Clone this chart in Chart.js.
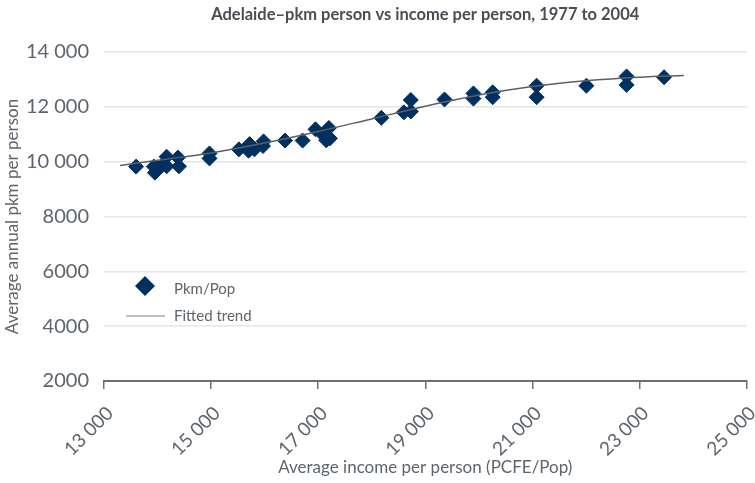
<!DOCTYPE html>
<html>
<head>
<meta charset="utf-8">
<title>Adelaide pkm vs income</title>
<script src="https://cdn.jsdelivr.net/npm/chart.js@4"></script>
<style>
  html, body { margin: 0; padding: 0; background: #fff; }
  #wrap { position: relative; width: 755px; height: 483px; }
</style>
</head>
<body>
<div id="wrap"><canvas id="pkmChart"></canvas></div>
<script>
/* ============================================================
   DATA
   ============================================================ */
const pointIncome = [
    13600, 13930, 13950, 13990, 14080, 14170, 14170, 14380, 14400,
    14970, 14970, 15520, 15700, 15720, 15810, 15970, 15980,
    16380, 16710, 16950, 17100, 17150, 17200, 17220,
    18180, 18600, 18730, 18730, 19360, 19900, 19900, 20260, 20260,
    21080, 21080, 22010, 22760, 22760, 23460
];
const pointPkm = [
    9820, 9820, 9600, 9780, 9850, 10180, 9830, 10150, 9830,
    10300, 10120, 10450, 10400, 10640, 10450, 10570, 10740,
    10770, 10770, 11180, 10960, 10780, 11230, 10850,
    11600, 11800, 11830, 12250, 12270, 12490, 12300, 12530, 12350,
    12770, 12350, 12770, 13110, 12800, 13080
];

const trendIncome = [13300, 14000, 15000, 16000, 17000, 18000, 19000, 20000, 21000, 22000, 23000, 23830];
const trendPkm = [9860, 10050, 10320, 10680, 11100, 11560, 12020, 12430, 12740, 12950, 13080, 13140];

const seriesLabels = ["Pkm/Pop", "Fitted trend"];
const xTicks = [13000, 15000, 17000, 19000, 21000, 23000, 25000];
const yTicks = [2000, 4000, 6000, 8000, 10000, 12000, 14000];

const FONT = "Lato, 'Liberation Sans', Arial, sans-serif";
const NAVY = "#00305f";
const TEXT_GREY = "#5d646b";

// "14 000" style for 5 digit numbers, plain "8000" below that
function fmtThousands(v) {
    const s = String(v);
    return v >= 10000 ? s.slice(0, -3) + " " + s.slice(-3) : s;
}

/* ============================================================
   LEGEND drawn inside the plot area (lower left)
   ============================================================ */
const insideLegend = {
    id: "insideLegend",
    afterDraw(chart) {
        const ctx = chart.ctx;
        const area = chart.chartArea;
        const x0 = area.left;
        const y0 = area.top;

        ctx.save();
        ctx.font = "15px " + FONT;
        ctx.textBaseline = "middle";

        // diamond
        const cx = x0 + 41, cy = y0 + 234;
        ctx.beginPath();
        ctx.moveTo(cx - 10, cy);
        ctx.lineTo(cx, cy - 10);
        ctx.lineTo(cx + 10, cy);
        ctx.lineTo(cx, cy + 10);
        ctx.closePath();
        ctx.fillStyle = NAVY;
        ctx.fill();

        ctx.fillStyle = TEXT_GREY;
        ctx.fillText(seriesLabels[0], x0 + 70, cy + 3);

        // trend line sample
        const ly = y0 + 264;
        ctx.beginPath();
        ctx.moveTo(x0 + 22, ly);
        ctx.lineTo(x0 + 61, ly);
        ctx.strokeStyle = "#7a8088";
        ctx.lineWidth = 1.2;
        ctx.stroke();
        ctx.fillText(seriesLabels[1], x0 + 70, ly);
        ctx.restore();
    }
};

/* ============================================================
   CHART
   ============================================================ */
const ctx = document.getElementById("pkmChart");

new Chart(ctx, {
    type: "scatter",
    data: {
        datasets: [
            {
                label: seriesLabels[0],
                data: pointIncome.map((x, i) => ({ x: x, y: pointPkm[i] })),
                pointStyle: "rectRot",
                pointRadius: 7.5,
                pointBackgroundColor: NAVY,
                pointBorderColor: NAVY,
                pointBorderWidth: 1,
                order: 2
            },
            {
                label: seriesLabels[1],
                data: trendIncome.map((x, i) => ({ x: x, y: trendPkm[i] })),
                showLine: true,
                borderColor: "#5a6068",
                borderWidth: 1.5,
                pointRadius: 0,
                cubicInterpolationMode: "monotone",
                order: 1
            }
        ]
    },
    options: {
        responsive: true,
        maintainAspectRatio: false,
        animation: false,
        layout: { padding: { left: 0, right: 6, top: 0, bottom: 0 } },
        plugins: {
            legend: { display: false },
            tooltip: { enabled: false },
            title: {
                display: true,
                text: "Adelaide\u2013pkm person vs income per person, 1977 to 2004",
                fullSize: false,
                color: "#484e54",
                font: { family: FONT, size: 16.5, weight: "bold", lineHeight: 1.2 },
                padding: { top: 5, bottom: 27.2 }
            }
        },
        scales: {
            x: {
                type: "linear",
                min: 13000,
                max: 25000,
                afterBuildTicks: scale => { scale.ticks = xTicks.map(v => ({ value: v })); },
                afterFit: scale => {
                    scale.height = 102;
                    scale.paddingLeft = 0;
                    scale.paddingRight = 0;
                },
                grid: {
                    display: true,
                    drawOnChartArea: false,
                    drawTicks: true,
                    tickLength: 8,
                    color: "#6b7075",
                    lineWidth: 1.5
                },
                border: { display: true, color: "#6b7075", width: 2 },
                ticks: {
                    minRotation: 45,
                    maxRotation: 45,
                    padding: 13,
                    labelOffset: 6,
                    color: TEXT_GREY,
                    font: { family: FONT, size: 19 },
                    callback: v => fmtThousands(v)
                },
                title: {
                    display: true,
                    text: "Average income per person (PCFE/Pop)",
                    color: TEXT_GREY,
                    font: { family: FONT, size: 17, lineHeight: 1.2 },
                    padding: { top: 0, bottom: 5 }
                }
            },
            y: {
                type: "linear",
                min: 2000,
                max: 14000,
                afterBuildTicks: scale => { scale.ticks = yTicks.map(v => ({ value: v })); },
                afterFit: scale => { scale.width = 104; },
                grid: {
                    color: "#e6e6e6",
                    lineWidth: 1.5,
                    drawTicks: false
                },
                border: { display: false },
                ticks: {
                    padding: 15,
                    color: TEXT_GREY,
                    font: { family: FONT, size: 20 },
                    callback: v => fmtThousands(v)
                },
                title: {
                    display: true,
                    text: "Average annual pkm per person",
                    color: TEXT_GREY,
                    font: { family: FONT, size: 17, lineHeight: 1.2 },
                    padding: { top: 2, bottom: 0 }
                }
            }
        }
    },
    plugins: [insideLegend]
});
</script>
</body>
</html>
